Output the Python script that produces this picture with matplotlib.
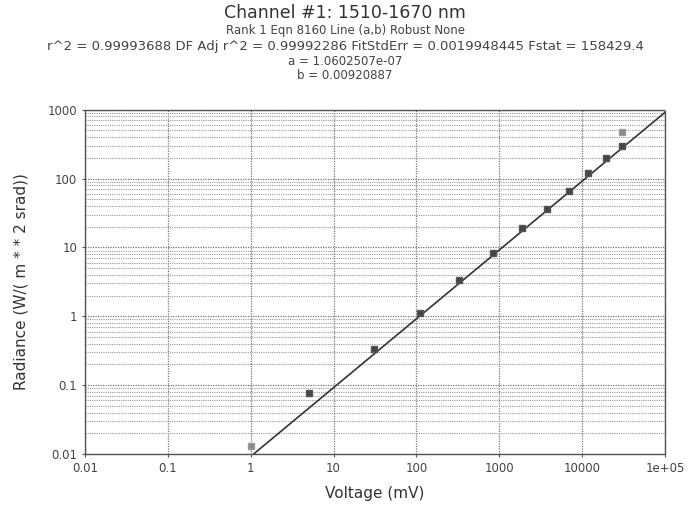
import matplotlib
matplotlib.use("Agg")
import matplotlib.pyplot as plt
import numpy as np
from matplotlib.ticker import FixedLocator, LogLocator, NullFormatter

# Data
voltage_mv = [5.1, 31, 110, 330, 830, 1860, 3800, 6900, 11700, 19500, 30000]
radiance = [0.078, 0.34, 1.12, 3.4, 8.3, 19, 36, 66, 121, 200, 300]
excluded_v = [1.0, 30000]
excluded_r = [0.013, 470]

fit_a = 1.0602507e-07
fit_b = 0.00920887

x_ticks = [0.01, 0.1, 1, 10, 100, 1000, 10000, 1e5]
x_tick_labels = ["0.01", "0.1", "1", "10", "100", "1000", "10000", "1e+05"]
y_ticks = [0.01, 0.1, 1, 10, 100, 1000]
y_tick_labels = ["0.01", "0.1", "1", "10", "100", "1000"]

fig = plt.figure(figsize=(6.9, 5.07), dpi=100)
ax = fig.add_axes([0.123, 0.1045, 0.841, 0.679])

ax.set_xscale("log")
ax.set_yscale("log")
ax.set_xlim(0.01, 1e5)
ax.set_ylim(0.01, 1000)

# fitted line
xs = np.logspace(np.log10((0.01 - fit_a) / fit_b), 5, 200)
ax.plot(xs, fit_a + fit_b * xs, color="#333333", lw=1.2, zorder=3)

ax.plot(voltage_mv, radiance, ls="none", marker="s", ms=5,
        color="#444444", mec="#555555", zorder=4)
ax.plot(excluded_v, excluded_r, ls="none", marker="s", ms=5,
        color="#8a8a8a", mec="#999999", zorder=4)

ax.xaxis.set_major_locator(FixedLocator(x_ticks))
ax.set_xticklabels(x_tick_labels)
ax.xaxis.set_minor_formatter(NullFormatter())
ax.xaxis.set_minor_locator(FixedLocator([]))
ax.yaxis.set_major_locator(FixedLocator(y_ticks))
ax.set_yticklabels(y_tick_labels)
ax.yaxis.set_minor_locator(LogLocator(base=10, subs=np.arange(2, 10)))
ax.yaxis.set_minor_formatter(NullFormatter())

ax.grid(True, which="major", axis="both", color="#777777", ls=(0, (1, 1)), lw=0.9)
ax.grid(True, which="minor", axis="y", color="#999999", ls=(0, (1, 1)), lw=0.8)

for s in ax.spines.values():
    s.set_color("#555555")
    s.set_linestyle((0, (1, 1)))
    s.set_linewidth(1.0)

ax.tick_params(which="both", length=2, colors="#555555", labelcolor="#444444", labelsize=8.5)
ax.tick_params(which="minor", length=0)

ax.set_xlabel("Voltage (mV)", fontsize=11, color="#333333", labelpad=8)
ax.set_ylabel("Radiance (W/( m * * 2 srad))", fontsize=11, color="#333333", labelpad=14)

fig.text(0.5, 0.975, "Channel #1: 1510-1670 nm", ha="center", va="center",
         fontsize=12.5, color="#333333")
fig.text(0.5, 0.94, "Rank 1 Eqn 8160 Line (a,b) Robust None", ha="center", va="center",
         fontsize=8.5, color="#444444")
fig.text(0.5, 0.908,
         "r^2 = 0.99993688 DF Adj r^2 = 0.99992286 FitStdErr = 0.0019948445 Fstat = 158429.4",
         ha="center", va="center", fontsize=9.5, color="#444444")
fig.text(0.5, 0.879, "a = 1.0602507e-07", ha="center", va="center",
         fontsize=8.5, color="#444444")
fig.text(0.5, 0.851, "b = 0.00920887", ha="center", va="center",
         fontsize=8.5, color="#444444")

fig.savefig("out.png", dpi=100)
